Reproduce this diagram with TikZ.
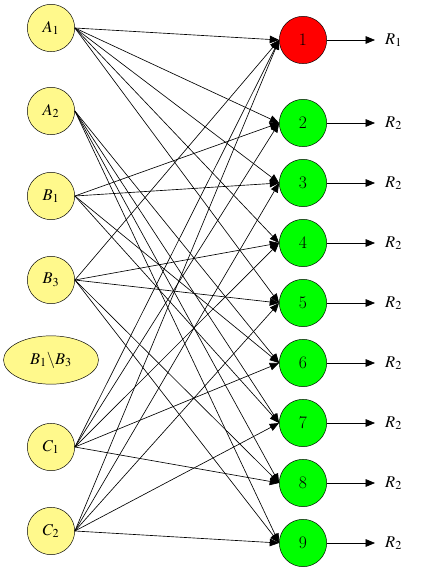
\documentclass[tikz,border=0pt]{standalone}
\usepackage{mathptmx}
\usetikzlibrary{arrows.meta,shapes.geometric}
\begin{document}
\begin{tikzpicture}[x=0.03cm,y=-0.03cm,
    inode/.style={circle,draw,fill=yellow!45,minimum size=1.42cm,inner sep=0pt,font=\fontsize{14}{16}\selectfont},
    enode/.style={ellipse,draw,fill=yellow!45,minimum width=2.85cm,minimum height=1.45cm,inner sep=0pt,font=\fontsize{14}{16}\selectfont},
    onode/.style={circle,draw,minimum size=1.42cm,inner sep=0pt,font=\fontsize{15}{17}\selectfont},
    rlabel/.style={anchor=west,inner xsep=0.3cm,font=\fontsize{14}{16}\selectfont},
    edge/.style={-{Triangle[length=8pt,width=6.5pt]},line width=0.55pt}]
  \useasboundingbox (0,0) rectangle (425,570);

  % left: conditions
  \foreach \n/\y/\t in {a1/28/A_1,a2/111/A_2,b1/196/B_1,b3/280/B_3,c1/447/C_1,c2/531/C_2}
    \node[inode] (\n) at (51,\y) {$\t$};
  \node[enode] (b13) at (51,360) {$B_1\backslash B_3$};

  % right: rules and results
  \node[onode,fill=red] (r1) at (303,40) {1};
  \node[rlabel] (o1) at (375,40) {$R_1$};
  \draw[edge] (r1.east) -- (o1.west);
  \foreach \k/\y in {2/123,3/183,4/243,5/303,6/363,7/423,8/483,9/543}{
    \node[onode,fill=green] (r\k) at (303,\y) {\k};
    \node[rlabel] (o\k) at (375,\y) {$R_2$};
    \draw[edge] (r\k.east) -- (o\k.west);
  }

  % connections
  \foreach \s/\ts in {a1/{1,2,3,4,5},a2/{6,7,8,9},b1/{2,3,6,7},b3/{1,4,5,8,9},
                      c1/{1,2,4,6,8},c2/{1,3,5,7,9}}
    \foreach \t in \ts
      \draw[edge] (\s.east) -- (r\t.west);
\end{tikzpicture}
\end{document}
